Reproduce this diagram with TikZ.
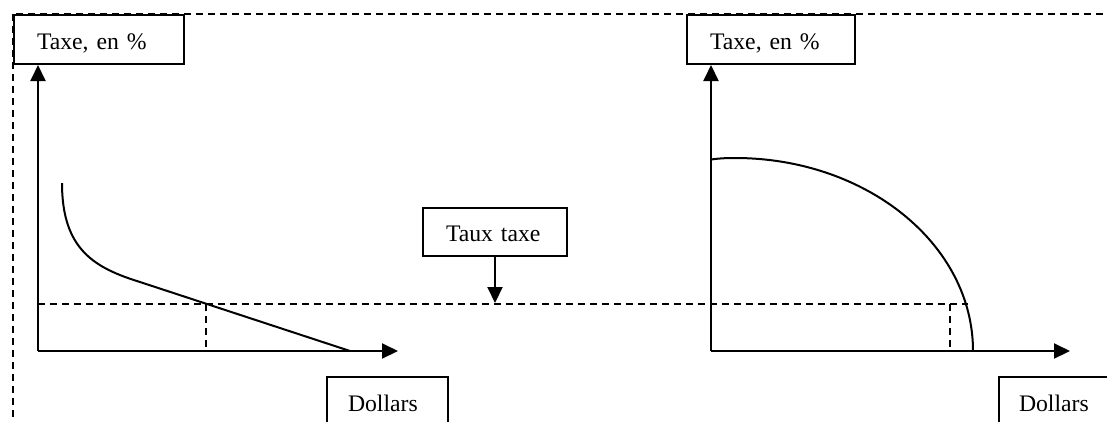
\documentclass[tikz,border=0pt]{standalone}
\usepackage{fontspec}
\setmainfont{Liberation Serif}
\usetikzlibrary{arrows.meta}
\tikzset{
  lbl/.style={draw, line width=2pt, font=\fontsize{23.7}{28}\selectfont, inner ysep=0pt,
    align=left, anchor=north west, minimum height=49pt, text height=19pt, text depth=0pt},
  axis/.style={line width=2pt, -{Triangle[length=16pt,width=15pt]}},
  guide/.style={line width=2pt, dash pattern=on 7pt off 5pt},
  curve/.style={line width=2pt},
}
\begin{document}
\begin{tikzpicture}[x=1pt,y=-1pt]
\useasboundingbox (0,0) rectangle (1107,421);
\clip (0,0) rectangle (1107,421);
% outer dashed frame
\draw[guide] (13,14) rectangle (1135,445);
% labels
\node[lbl, inner xsep=23pt, text width=124pt] (ty1) at (13,14) {Taxe, en \%};
\node[lbl, inner xsep=23pt, text width=122pt] (ty2) at (686,14) {Taxe, en \%};
\node[lbl, inner xsep=23pt, text width=98pt, minimum height=48pt] (tt) at (422,207) {Taux taxe};
\node[lbl, inner xsep=21pt, text width=79pt] (d1) at (326,376) {Dollars};
\node[lbl, inner xsep=20pt, text width=81pt] (d2) at (998,376) {Dollars};
% coordinates
\coordinate (o1) at (38,351);
\coordinate (x1) at (398,351);
\coordinate (o2) at (711,351);
\coordinate (x2) at (1070,351);
\coordinate (t1) at (494,303);
\coordinate (h1) at (38,304);
\coordinate (h2) at (968,304);
\coordinate (p1) at (206,304);
\coordinate (q1) at (206,351);
\coordinate (p2) at (950,304);
\coordinate (q2) at (950,351);
% dashed guides
\draw[guide] (h1) -- (h2);
\draw[guide] (p1) -- (q1);
\draw[guide] (p2) -- (q2);
% axes
\draw[axis] (o1) -- (o1 |- ty1.south);
\draw[axis] (o1) -- (x1);
\draw[axis] (o2) -- (o2 |- ty2.south);
\draw[axis] (o2) -- (x2);
\draw[axis] (tt.south) -- (tt.south |- t1);
% curves
\draw[curve] (62,183) .. controls (62,250) and (95,268) .. (140,282) -- (350,351);
\draw[curve] (711,159.5) .. controls (720,158.2) and (728,158) .. (735,158)
  .. controls (866,158) and (973,244) .. (973,351);
\end{tikzpicture}
\end{document}
